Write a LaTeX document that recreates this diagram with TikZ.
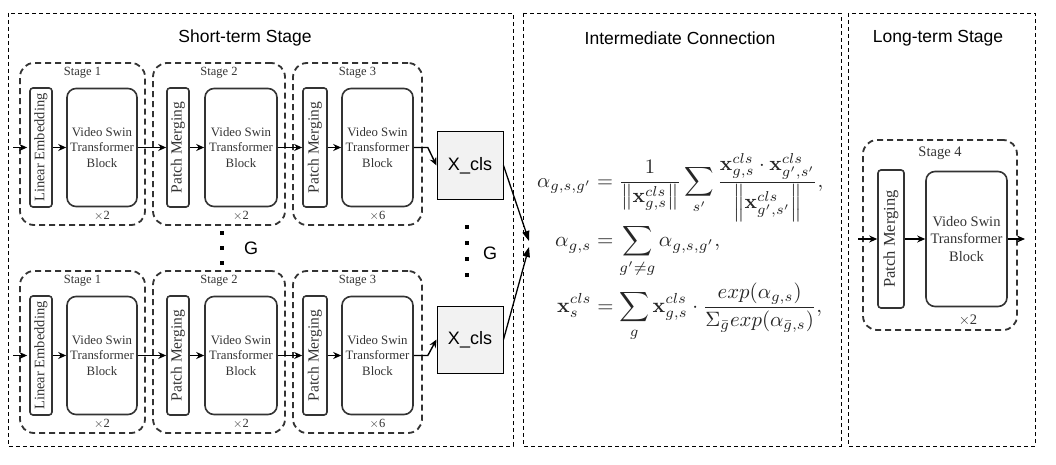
\documentclass[tikz,border=0pt]{standalone}
\usepackage[no-math]{fontspec}
\setmainfont{Liberation Serif}
\newfontfamily\sansf{Liberation Sans}
\usepackage{amsmath}
\usepackage{graphicx}
\usetikzlibrary{arrows.meta}
\definecolor{boxgray}{HTML}{333333}
\definecolor{clsfill}{HTML}{F2F2F2}
\tikzset{
  panel/.style={draw=black, line width=0.8pt, dash pattern=on 4pt off 3pt},
  title/.style={font=\sansf\fontsize{17.5}{20}\selectfont, inner sep=0pt},
  stagebox/.style={draw=boxgray, line width=1.8pt, dash pattern=on 6pt off 4pt, rounded corners=14pt, inner sep=0pt},
  pmbox/.style={draw=boxgray, line width=1.6pt, rounded corners=3pt, inner sep=0pt, text=boxgray, font=\fontsize{14.5}{16}\selectfont},
  vbbox/.style={draw=boxgray, line width=1.6pt, rounded corners=9pt, inner sep=0pt, align=center, text=boxgray, font=\fontsize{12.8}{15.5}\selectfont},
  stlabel/.style={text=boxgray, font=\fontsize{12.5}{14}\selectfont, inner sep=0pt},
  flow/.style={-{Stealth[length=8pt,width=7pt]}, line width=1.4pt, draw=black},
  xcls/.style={draw=black, fill=clsfill, line width=1pt, minimum width=66pt, minimum height=67pt, inner sep=0pt, font=\sansf\fontsize{18}{20}\selectfont},
  gtext/.style={font=\sansf\fontsize{18}{20}\selectfont, inner sep=0pt},
  dotnode/.style={fill=black, minimum size=4pt, inner sep=0pt},
  link/.style={-{Triangle[length=10pt,width=7pt]}, line width=1.3pt, draw=black}
}
\begin{document}
\begin{tikzpicture}[x=1pt,y=-1pt]
\useasboundingbox (0,0) rectangle (1056,465);

% panels
\draw[panel] (8,13) rectangle (513,446);
\draw[panel] (523,13) rectangle (841,446);
\draw[panel] (848,13) rectangle (1035,446);
\node[title] (t1) at (245,38) {Short-term Stage};
\node[title] (t2) at (680,38) {Intermediate Connection};
\node[title] (t3) at (938,38) {Long-term Stage};

% short-term rows
\foreach \r/\dy in {a/0,b/208}{
  \node[stagebox, minimum width=125pt, minimum height=162pt] (s1\r) at (82.5,144+\dy) {};
  \node[stagebox, minimum width=132pt, minimum height=162pt] (s2\r) at (219,144+\dy) {};
  \node[stagebox, minimum width=129pt, minimum height=162pt] (s3\r) at (357.5,144+\dy) {};
  \node[stlabel] (l1\r) at (82.5,73+\dy) {Stage 1};
  \node[stlabel] (l2\r) at (219,73+\dy) {Stage 2};
  \node[stlabel] (l3\r) at (357.5,73+\dy) {Stage 3};
  \node[stlabel] (m1\r) at (102,216+\dy) {$\times$2};
  \node[stlabel] (m2\r) at (241,216+\dy) {$\times$2};
  \node[stlabel] (m3\r) at (377.5,216+\dy) {$\times$6};
  \node[pmbox, minimum width=22pt, minimum height=119pt] (le\r) at (41,147.5+\dy) {\rotatebox{90}{Linear Embedding}};
  \node[vbbox, minimum width=70pt, minimum height=118pt] (v1\r) at (102,147.5+\dy) {Video Swin\\Transformer\\Block};
  \node[pmbox, minimum width=22pt, minimum height=119pt, font=\fontsize{15.5}{17}\selectfont] (p2\r) at (178,147.5+\dy) {\rotatebox{90}{Patch Merging}};
  \node[vbbox, minimum width=72pt, minimum height=118pt] (v2\r) at (241,147.5+\dy) {Video Swin\\Transformer\\Block};
  \node[pmbox, minimum width=24pt, minimum height=119pt, font=\fontsize{15.5}{17}\selectfont] (p3\r) at (315,147.5+\dy) {\rotatebox{90}{Patch Merging}};
  \node[vbbox, minimum width=71pt, minimum height=118pt] (v3\r) at (377.5,147.5+\dy) {Video Swin\\Transformer\\Block};
  \coordinate (in\r) at (13,147.5+\dy);
  \draw[flow, shorten >=2pt] (in\r) -- (le\r.west);
  \draw[flow] (le\r.east) -- (v1\r.west);
  \draw[flow] (v1\r.east) -- (p2\r.west);
  \draw[flow] (p2\r.east) -- (v2\r.west);
  \draw[flow] (v2\r.east) -- (p3\r.west);
  \draw[flow] (p3\r.east) -- (v3\r.west);
}

% X_cls boxes
\node[xcls] (xa) at (470,165.5) {X\_cls};
\node[xcls] (xb) at (470,339.5) {X\_cls};
\draw[flow] (v3a.east) -- ++(14,0) -- (xa.west);
\draw[flow] (v3b.east) -- ++(14,0) -- (xb.west);

% dots and G
\node[dotnode] (da1) at (222,233) {};
\node[dotnode] (da2) at (222,248) {};
\node[dotnode] (da3) at (222,263) {};
\node[gtext] (ga) at (251,248) {G};
\node[dotnode] (db1) at (467,227) {};
\node[dotnode] (db2) at (467,243) {};
\node[dotnode] (db3) at (467,259) {};
\node[dotnode] (db4) at (467,275) {};
\node[gtext] (gb) at (490,253) {G};

% links to equations
\coordinate (ea) at (529,241);
\coordinate (eb) at (529,247);
\draw[link] (xa.east) -- (ea);
\draw[link] (xb.east) -- (eb);

% equations
\node[anchor=west, inner sep=0pt, text=black!85] (eq1) at (537,187.5) {\resizebox{286pt}{!}{$\displaystyle \alpha_{g,s,g'} = \frac{1}{\left\|\mathbf{x}^{cls}_{g,s}\right\|}\sum_{s'}\frac{\mathbf{x}^{cls}_{g,s}\cdot\mathbf{x}^{cls}_{g',s'}}{\left\|\mathbf{x}^{cls}_{g',s'}\right\|},$}};
\node[anchor=west, inner sep=0pt, text=black!85] (eq2) at (555,251) {\resizebox{165pt}{!}{$\displaystyle \alpha_{g,s} = \sum_{g'\neq g}\alpha_{g,s,g'},$}};
\node[anchor=west, inner sep=0pt, text=black!85] (eq3) at (557,312) {\resizebox{265pt}{!}{$\displaystyle \mathbf{x}^{cls}_{s} = \sum_{g}\mathbf{x}^{cls}_{g,s}\cdot\frac{exp(\alpha_{g,s})}{\Sigma_{\bar{g}}exp(\alpha_{\bar{g},s})},$}};

% long-term stage
\node[stagebox, minimum width=154pt, minimum height=190pt] (s4) at (940,235) {};
\node[stlabel, font=\fontsize{14.5}{16}\selectfont] (l4) at (940,153) {Stage 4};
\node[pmbox, minimum width=26pt, minimum height=138pt, font=\fontsize{16.5}{18}\selectfont] (p4) at (891,239) {\rotatebox{90}{Patch Merging}};
\node[vbbox, minimum width=81pt, minimum height=135pt, font=\fontsize{14.5}{17.5}\selectfont] (v4) at (966.5,239) {Video Swin\\Transformer\\Block};
\node[stlabel, font=\fontsize{14.5}{16}\selectfont] (m4) at (968,320) {$\times$2};
\coordinate (in4) at (858,239);
\coordinate (out4) at (1025,239);
\draw[flow] (in4) -- (p4.west);
\draw[flow] (p4.east) -- (v4.west);
\draw[flow] (v4.east) -- (out4);
\end{tikzpicture}
\end{document}
